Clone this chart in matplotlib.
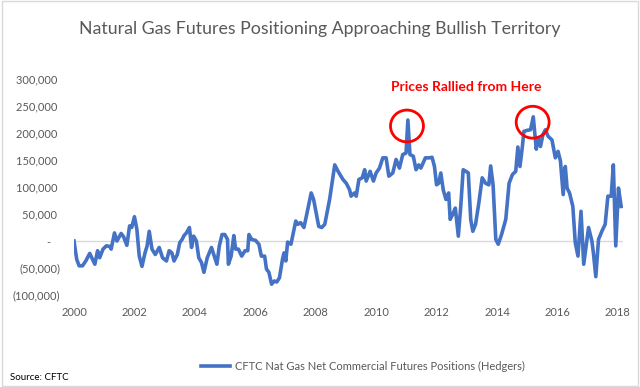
import matplotlib
matplotlib.use('Agg')
import matplotlib.pyplot as plt
from matplotlib.patches import Ellipse, Rectangle
from matplotlib.ticker import FuncFormatter
from matplotlib.lines import Line2D

plt.rcParams['font.family'] = ['Lato', 'DejaVu Sans']

# decimal year / net position (contracts)
years = [
    2000.00, 2000.09, 2000.17, 2000.28, 2000.39, 2000.52, 2000.69, 2000.78, 2000.85,
    2000.96, 2001.07, 2001.18, 2001.23, 2001.34, 2001.42, 2001.56, 2001.64, 2001.75,
    2001.84, 2001.91, 2002.00, 2002.08, 2002.16, 2002.25, 2002.35, 2002.42, 2002.49,
    2002.58, 2002.69, 2002.82, 2002.93, 2003.06, 2003.15, 2003.24, 2003.31, 2003.42,
    2003.50, 2003.58, 2003.64, 2003.72, 2003.82, 2003.89, 2003.96, 2004.05, 2004.13,
    2004.22, 2004.30, 2004.41, 2004.55, 2004.66, 2004.73, 2004.81, 2004.90, 2004.99,
    2005.08, 2005.11, 2005.20, 2005.29, 2005.35, 2005.44, 2005.55, 2005.66, 2005.75,
    2005.79, 2005.88, 2006.01, 2006.12, 2006.20, 2006.31, 2006.37, 2006.45, 2006.54,
    2006.63, 2006.71, 2006.80, 2006.90, 2006.95, 2007.01, 2007.07, 2007.18, 2007.34,
    2007.41, 2007.50, 2007.61, 2007.69, 2007.85, 2007.93, 2008.10, 2008.20, 2008.30,
    2008.46, 2008.63, 2008.74, 2008.90, 2009.01, 2009.12, 2009.17, 2009.28, 2009.34,
    2009.43, 2009.54, 2009.62, 2009.67, 2009.80, 2009.91, 2010.00, 2010.11, 2010.22,
    2010.33, 2010.42, 2010.55, 2010.66, 2010.77, 2010.88, 2010.99, 2011.05, 2011.12,
    2011.23, 2011.32, 2011.41, 2011.48, 2011.63, 2011.76, 2011.85, 2011.93, 2012.00,
    2012.07, 2012.14, 2012.22, 2012.31, 2012.40, 2012.45, 2012.53, 2012.62, 2012.72,
    2012.80, 2012.88, 2012.97, 2013.05, 2013.13, 2013.20, 2013.29, 2013.40, 2013.51,
    2013.62, 2013.73, 2013.79, 2013.87, 2013.96, 2014.04, 2014.15, 2014.29, 2014.40,
    2014.51, 2014.62, 2014.69, 2014.76, 2014.84, 2014.89, 2015.00, 2015.11, 2015.20,
    2015.30, 2015.36, 2015.44, 2015.52, 2015.60, 2015.69, 2015.82, 2015.93, 2016.02,
    2016.10, 2016.19, 2016.26, 2016.32, 2016.40, 2016.51, 2016.59, 2016.68, 2016.78,
    2016.87, 2017.03, 2017.14, 2017.19, 2017.27, 2017.36, 2017.47, 2017.58, 2017.67,
    2017.78, 2017.85, 2017.93, 2018.02, 2018.11,
]
positions = [
    0, -34000, -46000, -46000, -37000, -23000, -43000, -18000, -31000,
    -15000, -9000, -10000, -15000, 15000, 0, 14000, 8000, -8000,
    28000, 25000, 45000, 22000, -28000, -47000, -22000, -9000, 18000,
    -15000, -25000, -12000, -31000, -37000, -18000, -22000, -37000, -25000,
    -3000, 3000, 10000, 15000, 25000, -12000, 9000, 0, -31000,
    -40000, -58000, -31000, -12000, -31000, -43000, -9000, 12000, 12000,
    3000, -43000, -28000, 10000, -15000, -15000, -28000, -18000, -18000,
    12000, 3000, 1000, -6000, -28000, -28000, -52000, -58000, -80000,
    -74000, -76000, -68000, -34000, -22000, -37000, -2000, -6000, 37000,
    31000, 34000, 25000, 46000, 89000, 77000, 27000, 25000, 31000,
    77000, 141000, 129000, 114000, 107000, 95000, 83000, 89000, 83000,
    114000, 117000, 132000, 111000, 129000, 111000, 126000, 135000, 154000,
    154000, 120000, 126000, 151000, 135000, 160000, 163000, 224000, 160000,
    157000, 132000, 141000, 135000, 154000, 154000, 155000, 138000, 104000,
    107000, 126000, 95000, 77000, 89000, 40000, 49000, 61000, 9000,
    64000, 132000, 129000, 126000, 40000, 18000, 31000, 71000, 117000,
    107000, 104000, 139000, 104000, 3000, -6000, 12000, 40000, 107000,
    123000, 129000, 174000, 138000, 175000, 203000, 205000, 206000, 230000,
    170000, 191000, 175000, 197000, 206000, 194000, 187000, 154000, 166000,
    148000, 86000, 138000, 98000, 89000, 64000, -3000, -28000, 55000,
    -43000, 25000, 0, -22000, -66000, 3000, 18000, 31000, 83000,
    83000, 141000, -9000, 98000, 64000,
]

y_ticks = [-100000, -50000, 0, 50000, 100000, 150000, 200000, 250000, 300000]
x_ticks = [2000, 2002, 2004, 2006, 2008, 2010, 2012, 2014, 2016, 2018]

title = 'Natural Gas Futures Positioning Approaching Bullish Territory'
series_name = 'CFTC Nat Gas Net Commercial Futures Positions (Hedgers)'
callout = 'Prices Rallied from Here'
peaks = [(2011.02, 213000), (2015.18, 220000)]

GREY = '#595959'
BLUE = '#4472C4'


def acct(v, pos):
    # excel accounting style labels
    if v == 0:
        return '-   '
    if v < 0:
        return '({:,.0f})'.format(-v)
    return '{:,.0f} '.format(v)


fig = plt.figure(figsize=(6.4, 3.87), dpi=100)
ax = fig.add_axes([74 / 640, 1 - 295 / 387, (623 - 74) / 640, (295 - 79) / 387])

ax.axhline(0, color='#d9d9d9', lw=1, zorder=1)
ax.plot(years, positions, color=BLUE, lw=2.6, zorder=3, solid_joinstyle='round')

ax.set_xlim(2000, 2018.17)
ax.set_ylim(-100000, 300000)
ax.set_yticks(y_ticks)
ax.set_xticks(x_ticks)
ax.yaxis.set_major_formatter(FuncFormatter(acct))
ax.tick_params(length=0, labelsize=8, labelcolor=GREY, pad=10)
ax.tick_params(axis='x', pad=9)
for s in ax.spines.values():
    s.set_visible(False)

# callout circles and text
for cx, cy in peaks:
    ax.add_patch(Ellipse((cx, cy), 1.09, 59000, fill=False, edgecolor='#FF0000', lw=2, zorder=4))
ax.text(2012.97, 285000, callout, color='#FF0000', fontsize=10, fontweight='bold',
        ha='center', va='center')

fig.text(0.5, 1 - 29 / 387, title, ha='center', va='center', fontsize=12.8, color=GREY)

handle = Line2D([], [], color=BLUE, lw=2.6)
fig.legend([handle], [series_name], loc='center', bbox_to_anchor=(363 / 640, 1 - 366 / 387),
           frameon=False, fontsize=8, labelcolor=GREY, handlelength=2.6, handletextpad=0.4)

fig.text(10 / 640, 1 - 377 / 387, 'Source: CFTC', fontsize=7, color='black', va='center')

# chart area border
fig.patches.append(Rectangle((0.003, 0.003), 0.994, 0.994, transform=fig.transFigure,
                             fill=False, edgecolor='#d9d9d9', lw=1))

fig.savefig('out.png', dpi=100)
